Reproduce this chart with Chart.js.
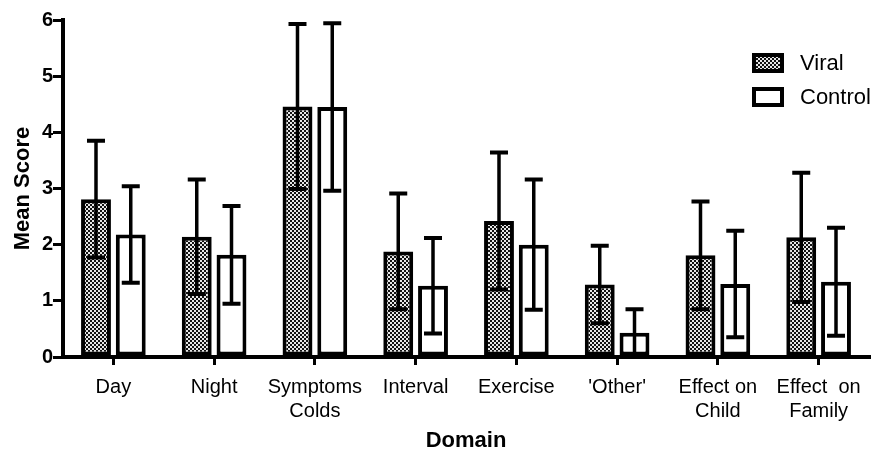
<!DOCTYPE html>
<html>
<head>
<meta charset="utf-8">
<script src="https://cdn.jsdelivr.net/npm/chart.js@4.4.0/dist/chart.umd.min.js"></script>
<style>
  html, body { margin: 0; padding: 0; background: #fff; }
  #myChart { display: block; }
</style>
</head>
<body>
<canvas id="myChart" width="875" height="458"></canvas>
<script>
var domains = ["Day", "Night", ["Symptoms", "Colds"], "Interval", "Exercise", "'Other'", ["Effect on", "Child"], ["Effect  on", "Family"]];
var viralMean = [2.81, 2.14, 4.46, 1.88, 2.42, 1.29, 1.81, 2.13];
var viralSd = [1.04, 1.02, 1.47, 1.03, 1.22, 0.69, 0.96, 1.15];
var controlMean = [2.18, 1.82, 4.45, 1.27, 2.00, 0.43, 1.30, 1.34];
var controlSd = [0.86, 0.87, 1.49, 0.85, 1.16, 0.42, 0.95, 0.96];
var yTicks = [0, 1, 2, 3, 4, 5, 6];

var FONT = "'Liberation Sans', Arial, Helvetica, sans-serif";

// checkered fill for the viral bars
function checker() {
  var c = document.createElement("canvas");
  c.width = 4; c.height = 4;
  var g = c.getContext("2d");
  g.fillStyle = "#111";
  g.fillRect(0, 0, 4, 4);
  g.fillStyle = "#e6e6e6";
  g.fillRect(0, 0, 2, 2);
  g.fillRect(2, 2, 2, 2);
  return g.createPattern(c, "repeat");
}
var viralFill = checker();

var sds = [viralSd, controlSd];

var errorBars = {
  id: "errorBars",
  afterDatasetsDraw: function(chart) {
    var ctx = chart.ctx;
    var y = chart.scales.y;
    ctx.save();
    ctx.strokeStyle = "#000";
    chart.data.datasets.forEach(function(ds, i) {
      var meta = chart.getDatasetMeta(i);
      meta.data.forEach(function(bar, j) {
        var m = ds.data[j], s = sds[i][j];
        var top = y.getPixelForValue(m + s);
        var bot = y.getPixelForValue(Math.max(m - s, 0));
        ctx.lineWidth = 3.5;
        ctx.beginPath();
        ctx.moveTo(bar.x, top);
        ctx.lineTo(bar.x, bot);
        ctx.stroke();
        ctx.lineWidth = 4;
        ctx.beginPath();
        ctx.moveTo(bar.x - 9, top); ctx.lineTo(bar.x + 9, top);
        ctx.moveTo(bar.x - 9, bot); ctx.lineTo(bar.x + 9, bot);
        ctx.stroke();
      });
    });
    ctx.restore();
  }
};

var boxLegend = {
  id: "boxLegend",
  afterDraw: function(chart) {
    var ctx = chart.ctx;
    ctx.save();
    chart.data.datasets.forEach(function(ds, i) {
      var bx = 752, by = 53 + i * 34;
      ctx.fillStyle = ds.backgroundColor;
      ctx.fillRect(bx, by, 32, 20);
      ctx.lineWidth = 4;
      ctx.strokeStyle = "#000";
      ctx.strokeRect(bx + 2, by + 2, 28, 16);
      ctx.fillStyle = "#000";
      ctx.font = "22px " + FONT;
      ctx.textBaseline = "middle";
      ctx.fillText(ds.label, 800, by + 11);
    });
    ctx.restore();
  }
};

var myChart = new Chart("myChart", {
  type: "bar",
  data: {
    labels: domains,
    datasets: [{
      label: "Viral",
      data: viralMean,
      backgroundColor: viralFill,
      borderColor: "#000",
      borderWidth: 4,
      borderSkipped: false
    }, {
      label: "Control",
      data: controlMean,
      backgroundColor: "#fff",
      borderColor: "#000",
      borderWidth: 4,
      borderSkipped: false
    }]
  },
  options: {
    responsive: false,
    animation: false,
    categoryPercentage: 0.69,
    barPercentage: 0.86,
    layout: { padding: { top: 20, right: 6, left: 0, bottom: 0 } },
    plugins: {
      legend: { display: false },
      tooltip: { enabled: false }
    },
    scales: {
      x: {
        grid: { display: true, drawOnChartArea: false, offset: false, tickLength: 8, lineWidth: 3, color: "#000" },
        border: { display: true, width: 4, color: "#000" },
        ticks: { color: "#000", font: { family: FONT, size: 20 }, maxRotation: 0, autoSkip: false, padding: 10 },
        title: { display: true, text: "Domain", color: "#000", font: { family: FONT, size: 22, weight: "bold" }, padding: { top: 8, bottom: 4 } },
        afterFit: function(s) { s.height = 101; }
      },
      y: {
        min: 0,
        max: 6,
        afterBuildTicks: function(s) { s.ticks = yTicks.map(function(v) { return { value: v }; }); },
        grid: { display: true, drawOnChartArea: false, tickLength: 10, lineWidth: 3, color: "#000" },
        border: { display: true, width: 4, color: "#000" },
        ticks: { color: "#000", font: { family: FONT, size: 20, weight: "bold" }, padding: 0 },
        title: { display: true, text: "Mean Score", color: "#000", font: { family: FONT, size: 22, weight: "bold" }, padding: { top: 10, bottom: 0 } },
        afterFit: function(s) { s.width = 63; }
      }
    }
  },
  plugins: [errorBars, boxLegend]
});
</script>
</body>
</html>
